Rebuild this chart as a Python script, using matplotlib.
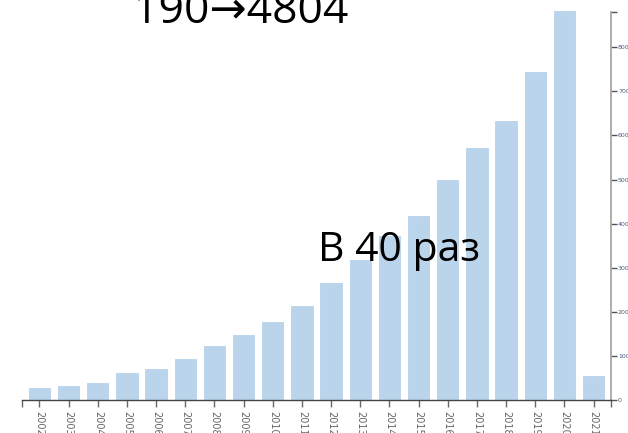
import matplotlib
matplotlib.use("Agg")
import matplotlib.pyplot as plt
from matplotlib.ticker import FixedLocator

years = [str(y) for y in range(2002, 2022)]
values = [288, 347, 401, 628, 726, 946, 1240, 1490, 1791, 2154,
          2676, 3197, 3741, 4195, 5011, 5744, 6349, 7467, 8844, 567]
y_ticks = [0, 1000, 2000, 3000, 4000, 5000, 6000, 7000, 8000]

fig = plt.figure(figsize=(6.28, 4.33), dpi=100)
fig.set_facecolor('white')
ax = fig.add_axes([22 / 628, 33 / 433, 589 / 628, 388 / 433])

x = list(range(len(years)))
ax.bar(x, values, width=0.8, color='#bad4eb', edgecolor='white',
       linewidth=0.8, clip_on=False, zorder=2)

ax.set_xlim(-0.6, len(years) - 0.4)
ax.set_ylim(0, 8800)

# y axis on the right, d3 style
ax.yaxis.tick_right()
ax.spines['left'].set_visible(False)
ax.spines['top'].set_visible(False)
ax.spines['right'].set_color('#a0a0a0')
ax.spines['right'].set_linewidth(1.2)
ax.spines['bottom'].set_color('#444444')
ax.spines['bottom'].set_linewidth(1.0)
ax.set_yticks(y_ticks)
ax.set_yticklabels([str(v) for v in y_ticks])
ax.yaxis.set_minor_locator(FixedLocator([8800]))
ax.tick_params(axis='y', which='both', direction='out', length=4, width=1,
               colors='#555555', labelsize=4.5, labelcolor='#4a5f80', pad=1)

ax.set_xticks(x)
ax.set_xticklabels(years, rotation=-90, va='top', ha='center')
ax.xaxis.set_minor_locator(FixedLocator([-0.6, len(years) - 0.4]))
ax.tick_params(axis='x', which='both', direction='out', length=5, width=1,
               colors='#666666', labelsize=7, labelcolor='#666666', pad=3)

fam = ['Open Sans', 'DejaVu Sans']
fig.text(133 / 628, 1 - 22.7 / 433, '190\u21924804', fontsize=32,
         family=fam, color='black', ha='left', va='baseline')
fig.text(318 / 628, 1 - 261 / 433, 'В 40 раз', fontsize=29.5,
         family=fam, color='black', ha='left', va='baseline', zorder=5)

fig.savefig('out.png', dpi=100, facecolor='white')
